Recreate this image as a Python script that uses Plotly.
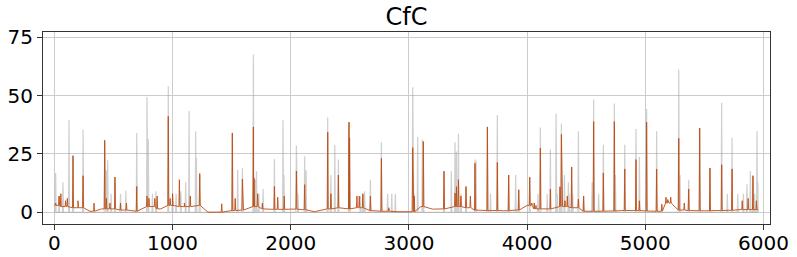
import numpy as np
import plotly.graph_objects as go

# Gray series (target) spikes: x position, peak value; baseline 0
gray_x = [11, 40, 73, 124, 158, 243, 426, 440, 451, 480, 513, 560, 605, 697, 784, 795, 830, 860,
          964, 1000, 1030, 1070, 1111, 1140, 1196, 1202, 1230, 1506, 1551, 1591, 1684, 1700, 1710,
          1730, 1766, 1862, 1935, 1943, 2048, 2062, 2118, 2130, 2313, 2340, 2373, 2403, 2493, 2500,
          2590, 2610, 2625, 2674, 2767, 2820, 2855, 2885, 3032, 3045, 3074, 3114, 3122, 3297, 3359,
          3390, 3402, 3419, 3440, 3483, 3559, 3568, 3664, 3690, 3748, 3844, 3903, 3929, 4022, 4092,
          4112, 4170, 4197, 4245, 4255, 4278, 4290, 4316, 4349, 4355, 4377, 4385, 4434, 4478, 4550,
          4563, 4605, 4645, 4738, 4747, 4826, 4921, 4950, 5011, 5096, 5283, 5294, 5367, 5460, 5547,
          5646, 5694, 5734, 5782, 5830, 5860, 5889, 5911, 5925, 5945, 5953]
gray_y = [16.9, 7, 12.9, 39.7, 24, 35.4, 30, 18, 22.3, 8, 15, 8, 9.4, 34, 49.4, 31.4, 8, 9,
          54, 8, 8, 9, 12.9, 43.4, 34.7, 23.3, 16.6, 34, 18.3, 18.9, 67.6, 14, 17.6,
          8, 10, 22.9, 39.7, 16, 28.6, 8, 24, 18, 40.6, 16, 29, 22.6, 38.6, 32,
          7, 8, 9, 14, 30, 8, 8, 8, 53.6, 8, 32.3, 31.1, 30.3, 17, 17.7,
          30, 26.1, 33.7, 8, 11, 22.6, 22, 36.6, 8, 41.7, 16, 16, 9.7, 15, 8,
          36.3, 8, 26.9, 42.3, 8, 11, 37.9, 16, 12.9, 8, 19.4, 8, 34.7, 7, 12.9,
          48.3, 8, 28.9, 46.6, 16, 28.9, 35.7, 23.7, 44.3, 34.7, 61.1, 16, 14, 36.1, 19,
          46.9, 8, 31.9, 8, 8, 12, 17.7, 15.7, 8, 34.7, 12.9]

# Orange series (prediction) spikes
orange_x = [11, 40, 55, 95, 110, 158, 200, 243, 336, 426, 440, 470, 513, 560, 610, 697, 784, 800,
            850, 870, 964, 980, 1000, 1058, 1100, 1150, 1230, 1416, 1506, 1530, 1591, 1684, 1690,
            1720, 1760, 1862, 1890, 1945, 2048, 2118, 2313, 2340, 2403, 2493, 2497, 2560, 2580,
            2610, 2674, 2767, 2830, 3032, 3045, 3122, 3297, 3390, 3402, 3419, 3440, 3483, 3520,
            3559, 3664, 3748, 3844, 3929, 4022, 4040, 4060, 4075, 4112, 4197, 4278, 4290, 4320,
            4340, 4377, 4434, 4478, 4563, 4645, 4738, 4826, 4921, 4950, 5011, 5096, 5140, 5175,
            5190, 5215, 5283, 5330, 5367, 5460, 5547, 5646, 5734, 5820, 5870, 5911, 5940]
orange_y = [4, 7, 8, 5, 6, 24.3, 5, 15.7, 4, 30.9, 6, 4, 15.1, 4, 4, 11.1, 7, 6,
            6, 7, 41.1, 6, 8, 14, 4, 7, 16.6, 3.7, 34, 6, 14.3, 36.6, 14.6,
            8, 4, 11.1, 6.5, 7, 17.7, 11.9, 34.3, 8, 16, 38.6, 32, 7, 7,
            8, 7, 23.1, 2, 27.7, 7, 30.3, 17.7, 8.3, 11, 14, 7, 11.1, 7,
            21, 36.6, 21.4, 16, 9.7, 15.1, 4, 4, 3, 27.6, 10, 11, 33.4, 5,
            7, 19.4, 5.7, 7, 38.9, 16.9, 38.9, 18.6, 22.6, 5, 38.6, 18.6, 3.5, 6.5,
            5.5, 6.5, 31.7, 4, 10, 36.1, 19, 20.4, 18.6, 5, 6, 15.7, 5]

# Orange baseline level read every 100 steps
base_x = list(range(0, 6000, 100)) + [5955]
base_y = [3, 2.5, 2, 0.5, 1.5, 1.5, 1, 0.5, 2.5, 1.5, 3, 2.5, 3, 0.1, 0.1, 0.8, 1, 2.5, 1.5, 1.3,
          1.4, 1.2, 0.3, 1.5, 2, 1.5, 2, 0.8, 0.5, 0.3, 0.3, 2.5, 1.4, 1.5, 2.5, 2, 1, 0.8, 0.7, 1,
          3, 1.5, 1.5, 2.5, 2, 0.5, 0.5, 0.6, 0.8, 0.8, 0.6, 0.5, 4, 1, 0.8, 0.7, 0.8, 0.9, 1.2, 1.2,
          1.2]

x_ticks = [0, 1000, 2000, 3000, 4000, 5000, 6000]
y_ticks = [0, 25, 50, 75]


def nearest_base(x):
    i = int(np.argmin([abs(b - x) for b in base_x]))
    return base_y[i]


def build(px, py, foot, base_pts):
    pts = list(base_pts)
    for x, y in zip(px, py):
        f = foot(x)
        pts += [(x - 4, f), (x, y), (x + 4, f)]
    pts.sort(key=lambda p: p[0])
    return [p[0] for p in pts], [p[1] for p in pts]


gx, gy = build(gray_x, gray_y, lambda x: 0.0, [(0, 0.0), (5955, 0.0)])
ox, oy = build(orange_x, orange_y, nearest_base, list(zip(base_x, base_y)))

fig = go.Figure()
fig.add_trace(go.Scatter(x=gx, y=gy, mode="lines",
                         line=dict(color="rgba(160,160,160,0.5)", width=1.2),
                         showlegend=False, hoverinfo="skip"))
fig.add_trace(go.Scatter(x=ox, y=oy, mode="lines",
                         line=dict(color="rgba(190,78,20,0.9)", width=1.0),
                         showlegend=False, hoverinfo="skip"))

axis_common = dict(showgrid=True, gridcolor="#cccccc", gridwidth=1.3,
                   showline=True, linecolor="#333333", linewidth=1, mirror=True,
                   ticks="outside", ticklen=5, tickcolor="#333333",
                   tickfont=dict(family="DejaVu Sans", size=20, color="black"),
                   zeroline=False, automargin=False)

fig.update_layout(
    width=797, height=257,
    margin=dict(l=43, r=27, t=32, b=33),
    paper_bgcolor="white", plot_bgcolor="white",
    title=dict(text="CfC", x=0.51, xanchor="center", y=1 - 16.5 / 257, yanchor="middle",
               font=dict(family="DejaVu Sans", size=24, color="black")),
    xaxis=dict(range=[-96, 6055], tickvals=x_ticks, ticklabelstandoff=-4, **axis_common),
    yaxis=dict(range=[-4.96, 77.2], tickvals=y_ticks, **axis_common),
)

fig.write_html("out.html")
